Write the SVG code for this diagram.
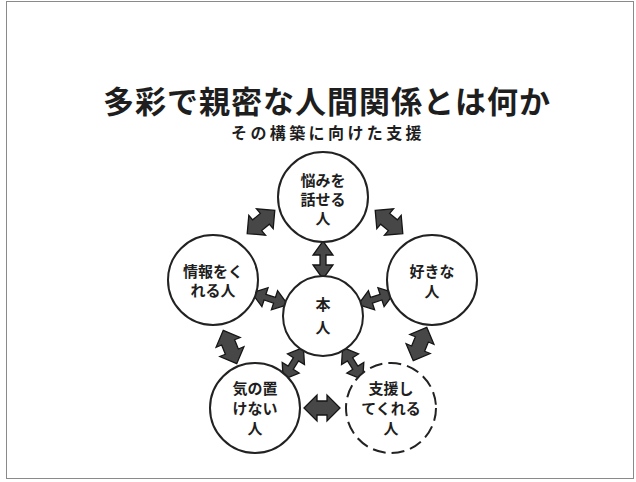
<svg xmlns="http://www.w3.org/2000/svg" width="636" height="482" viewBox="0 0 636 482">
<defs>
<style>
.jp{font-family:"Noto Sans CJK JP","Noto Sans CJK SC",sans-serif;fill:#1e1e1e;}
.title{font-size:31px;font-weight:700;letter-spacing:1px;}
.sub{font-size:16px;font-weight:700;letter-spacing:3.4px;}
.lbl{font-size:15px;font-weight:700;text-anchor:middle;}
.node{fill:#fff;stroke:#222;stroke-width:2;}
.dash{stroke-dasharray:13 6;}
.arr{fill:#474747;stroke:#151515;stroke-width:1.3;stroke-linejoin:miter;}
</style>
<path id="dbl" d="M0,0 L14,-10 L14,-3 L24,-3 L24,-10 L38,0 L24,10 L24,3 L14,3 L14,10 Z"/>
<path id="blk" d="M-18,0 L-5,-13 L-5,-7 L5,-7 L5,-13 L18,0 L5,13 L5,7 L-5,7 L-5,13 Z"/>
</defs>
<rect x="6.5" y="1.5" width="627" height="477" fill="#fff" stroke="#8a8a8a" stroke-width="1"/>
<g id="title">
<text class="jp title" x="327" y="113" text-anchor="middle">多彩で親密な人間関係とは何か</text>
<text class="jp sub" x="328" y="139" text-anchor="middle">その構築に向けた支援</text>
</g>
<g id="connectors">
<use href="#dbl" class="arr" transform="translate(323,316) rotate(-90) translate(37,0)"/>
<use href="#dbl" class="arr" transform="translate(323,316) rotate(-162) translate(37,0)"/>
<use href="#dbl" class="arr" transform="translate(323,316) rotate(-18) translate(37,0)"/>
<use href="#dbl" class="arr" transform="translate(323,316) rotate(122) translate(37,0)"/>
<use href="#dbl" class="arr" transform="translate(323,316) rotate(58) translate(37,0)"/>
<use href="#blk" class="arr" transform="translate(261,222) rotate(-40)"/>
<use href="#blk" class="arr" transform="translate(389,222) rotate(40)"/>
<use href="#blk" class="arr" transform="translate(230,347) rotate(68)"/>
<use href="#blk" class="arr" transform="translate(420,344) rotate(112)"/>
<use href="#blk" class="arr" transform="translate(322,408)"/>
</g>
<g id="n-top">
<circle class="node" cx="323" cy="197" r="45"/>
<text class="jp lbl" x="323" y="186">悩みを</text>
<text class="jp lbl" x="323" y="205">話せる</text>
<text class="jp lbl" x="323" y="224">人</text>
</g>
<g id="n-left">
<circle class="node" cx="213" cy="280" r="45"/>
<text class="jp lbl" x="213" y="277">情報をく</text>
<text class="jp lbl" x="213" y="296">れる人</text>
</g>
<g id="n-right">
<circle class="node" cx="432" cy="280" r="45"/>
<text class="jp lbl" x="432" y="277">好きな</text>
<text class="jp lbl" x="432" y="297">人</text>
</g>
<g id="n-center">
<circle class="node" cx="323" cy="316" r="40"/>
<text class="jp lbl" x="323" y="310">本</text>
<text class="jp lbl" x="323" y="333">人</text>
</g>
<g id="n-bl">
<circle class="node" cx="255" cy="408" r="45"/>
<text class="jp lbl" x="255" y="394">気の置</text>
<text class="jp lbl" x="255" y="414">けない</text>
<text class="jp lbl" x="255" y="434">人</text>
</g>
<g id="n-br">
<circle class="node dash" cx="391" cy="408" r="45"/>
<text class="jp lbl" x="391" y="394">支援し</text>
<text class="jp lbl" x="391" y="414">てくれる</text>
<text class="jp lbl" x="391" y="434">人</text>
</g>
</svg>
